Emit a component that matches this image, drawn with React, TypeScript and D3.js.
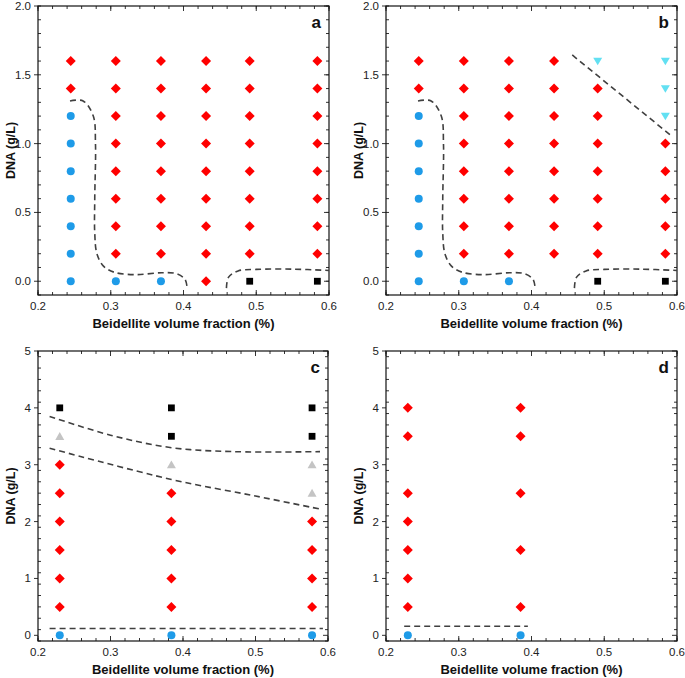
import React from 'react';
import * as d3 from 'd3';

type Col = { x: number; y: number[] };
type Pt = [number, number];

const xTickValues = [0.2, 0.3, 0.4, 0.5, 0.6];
const yTicksAB = [0, 0.5, 1.0, 1.5, 2.0];
const yTicksCD = [0, 1, 2, 3, 4, 5];

// Panel a
const aDiamond: Col[] = [
  { x: 0.245, y: [1.6, 1.4] },
  { x: 0.307, y: [1.6, 1.4, 1.2, 1.0, 0.8, 0.6, 0.4, 0.2] },
  { x: 0.369, y: [1.6, 1.4, 1.2, 1.0, 0.8, 0.6, 0.4, 0.2] },
  { x: 0.431, y: [1.6, 1.4, 1.2, 1.0, 0.8, 0.6, 0.4, 0.2, 0.0] },
  { x: 0.491, y: [1.6, 1.4, 1.2, 1.0, 0.8, 0.6, 0.4, 0.2] },
  { x: 0.584, y: [1.6, 1.4, 1.2, 1.0, 0.8, 0.6, 0.4, 0.2] },
];
const aCircle: Col[] = [
  { x: 0.245, y: [1.2, 1.0, 0.8, 0.6, 0.4, 0.2, 0.0] },
  { x: 0.307, y: [0.0] },
  { x: 0.369, y: [0.0] },
];
const aSquare: Col[] = [
  { x: 0.491, y: [0.0] },
  { x: 0.584, y: [0.0] },
];

// Panel b
const bDiamond: Col[] = [
  { x: 0.245, y: [1.6, 1.4] },
  { x: 0.307, y: [1.6, 1.4, 1.2, 1.0, 0.8, 0.6, 0.4, 0.2] },
  { x: 0.369, y: [1.6, 1.4, 1.2, 1.0, 0.8, 0.6, 0.4, 0.2] },
  { x: 0.431, y: [1.6, 1.4, 1.2, 1.0, 0.8, 0.6, 0.4, 0.2] },
  { x: 0.491, y: [1.4, 1.2, 1.0, 0.8, 0.6, 0.4, 0.2] },
  { x: 0.584, y: [1.0, 0.8, 0.6, 0.4, 0.2] },
];
const bCircle: Col[] = [
  { x: 0.245, y: [1.2, 1.0, 0.8, 0.6, 0.4, 0.2, 0.0] },
  { x: 0.307, y: [0.0] },
  { x: 0.369, y: [0.0] },
];
const bSquare: Col[] = [
  { x: 0.491, y: [0.0] },
  { x: 0.584, y: [0.0] },
];
const bTriDown: Col[] = [
  { x: 0.491, y: [1.6] },
  { x: 0.584, y: [1.6, 1.4, 1.2] },
];

// Panel c
const cDiamond: Col[] = [
  { x: 0.23, y: [3, 2.5, 2, 1.5, 1, 0.5] },
  { x: 0.384, y: [2.5, 2, 1.5, 1, 0.5] },
  { x: 0.578, y: [2, 1.5, 1, 0.5] },
];
const cCircle: Col[] = [
  { x: 0.23, y: [0] },
  { x: 0.384, y: [0] },
  { x: 0.578, y: [0] },
];
const cSquare: Col[] = [
  { x: 0.23, y: [4] },
  { x: 0.384, y: [4, 3.5] },
  { x: 0.578, y: [4, 3.5] },
];
const cTriUp: Col[] = [
  { x: 0.23, y: [3.5] },
  { x: 0.384, y: [3] },
  { x: 0.578, y: [3, 2.5] },
];

// Panel d
const dDiamond: Col[] = [
  { x: 0.23, y: [4, 3.5, 2.5, 2, 1.5, 1, 0.5] },
  { x: 0.385, y: [4, 3.5, 2.5, 1.5, 0.5] },
];
const dCircle: Col[] = [
  { x: 0.23, y: [0] },
  { x: 0.385, y: [0] },
];

// Boundary (dashed) lines
const abLeftCurve: Pt[] = [
  [0.244, 1.31], [0.262, 1.31], [0.276, 1.2], [0.279, 1.0], [0.278, 0.6],
  [0.278, 0.35], [0.281, 0.2], [0.29, 0.11], [0.305, 0.065], [0.335, 0.048],
  [0.37, 0.062], [0.39, 0.055], [0.402, 0.015], [0.405, -0.05],
];
const abRightCurve: Pt[] = [
  [0.459, -0.05], [0.462, 0.03], [0.475, 0.075], [0.5, 0.086], [0.55, 0.088], [0.6, 0.078],
];
const bDiagonal: Pt[] = [[0.456, 1.644], [0.591, 1.062]];
const cUpperCurve: Pt[] = [[0.216, 3.85], [0.3, 3.52], [0.384, 3.3], [0.47, 3.23], [0.589, 3.23]];
const cLowerCurve: Pt[] = [[0.216, 3.29], [0.384, 2.74], [0.5, 2.45], [0.589, 2.22]];
const cBottomLine: Pt[] = [[0.216, 0.12], [0.593, 0.12]];
const dBottomLine: Pt[] = [[0.225, 0.16], [0.395, 0.16]];

const RED = '#ff0000';
const BLUE = '#1e9be8';
const CYAN = '#62e0f2';
const GRAY = '#c4c4c4';
const DASH = '#404040';
const FONT = 'Liberation Sans, Arial, sans-serif';

interface PanelProps {
  left: number; right: number; top: number; bottom: number;
  yDomain: [number, number];
  yTicks: number[];
  yMinorStep: number;
  yFmt: (v: number) => string;
  letter: string;
  diamonds?: Col[]; circles?: Col[]; squares?: Col[]; triDown?: Col[]; triUp?: Col[];
  curves: { pts: Pt[]; smooth: boolean }[];
}

function flatten(cols: Col[] | undefined): Pt[] {
  if (!cols) return [];
  const out: Pt[] = [];
  cols.forEach((c) => c.y.forEach((y) => out.push([c.x, y])));
  return out;
}

function Panel(p: PanelProps) {
  const x = d3.scaleLinear().domain([0.2, 0.6]).range([p.left, p.right]);
  const y = d3.scaleLinear().domain(p.yDomain).range([p.bottom, p.top]);
  const xMinor = d3.range(0.2, 0.6001, 0.02);
  const yMinor = d3.range(p.yDomain[0], p.yDomain[1] + 1e-6, p.yMinorStep).map((v) => Math.round(v * 1000) / 1000);
  const tickColor = '#333';
  const lineGen = (smooth: boolean) =>
    d3.line<Pt>().x((d) => x(d[0])).y((d) => y(d[1])).curve(smooth ? d3.curveCatmullRom.alpha(0.5) : d3.curveLinear);
  const r = 5;
  return (
    <g>
      {xMinor.map((v, i) => (
        <g key={'xm' + i}>
          <line x1={x(v)} x2={x(v)} y1={p.bottom} y2={p.bottom - 3} stroke={tickColor} />
          <line x1={x(v)} x2={x(v)} y1={p.top} y2={p.top + 3} stroke={tickColor} />
        </g>
      ))}
      {xTickValues.map((v, i) => (
        <g key={'xM' + i}>
          <line x1={x(v)} x2={x(v)} y1={p.bottom} y2={p.bottom - 5} stroke={tickColor} />
          <line x1={x(v)} x2={x(v)} y1={p.top} y2={p.top + 5} stroke={tickColor} />
          <text x={x(v)} y={p.bottom + 15} textAnchor="middle" fontSize={11.5} fill="#222"
            fontFamily={FONT}>{v.toFixed(1)}</text>
        </g>
      ))}
      {yMinor.map((v, i) => (
        <g key={'ym' + i}>
          <line x1={p.left} x2={p.left + 3} y1={y(v)} y2={y(v)} stroke={tickColor} />
          <line x1={p.right} x2={p.right - 3} y1={y(v)} y2={y(v)} stroke={tickColor} />
        </g>
      ))}
      {p.yTicks.map((v, i) => (
        <g key={'yM' + i}>
          <line x1={p.left} x2={p.left - 4} y1={y(v)} y2={y(v)} stroke={tickColor} />
          <line x1={p.right} x2={p.right - 5} y1={y(v)} y2={y(v)} stroke={tickColor} />
          <text x={p.left - 7} y={y(v) + 4} textAnchor="end" fontSize={11.5} fill="#222"
            fontFamily={FONT}>{p.yFmt(v)}</text>
        </g>
      ))}
      <rect x={p.left} y={p.top} width={p.right - p.left} height={p.bottom - p.top}
        fill="none" stroke="#111" strokeWidth={1.2} />
      {p.curves.map((c, i) => (
        <path key={'c' + i} d={lineGen(c.smooth)(c.pts) || ''} fill="none" stroke={DASH}
          strokeWidth={1.6} strokeDasharray="6,4" />
      ))}
      {flatten(p.diamonds).map((d, i) => {
        const cx = x(d[0]), cy = y(d[1]);
        return <path key={'d' + i} d={`M${cx},${cy - r}L${cx + r},${cy}L${cx},${cy + r}L${cx - r},${cy}Z`} fill={RED} />;
      })}
      {flatten(p.circles).map((d, i) => (
        <circle key={'ci' + i} cx={x(d[0])} cy={y(d[1])} r={4} fill={BLUE} />
      ))}
      {flatten(p.squares).map((d, i) => (
        <rect key={'s' + i} x={x(d[0]) - 3.4} y={y(d[1]) - 3.4} width={6.8} height={6.8} fill="#000" />
      ))}
      {flatten(p.triDown).map((d, i) => {
        const cx = x(d[0]), cy = y(d[1]);
        return <path key={'td' + i} d={`M${cx - 4.5},${cy - 3.4}L${cx + 4.5},${cy - 3.4}L${cx},${cy + 4.2}Z`} fill={CYAN} />;
      })}
      {flatten(p.triUp).map((d, i) => {
        const cx = x(d[0]), cy = y(d[1]);
        return <path key={'tu' + i} d={`M${cx - 4.5},${cy + 3.6}L${cx + 4.5},${cy + 3.6}L${cx},${cy - 4.3}Z`} fill={GRAY} />;
      })}
      <text x={(p.left + p.right) / 2} y={p.bottom + 33} textAnchor="middle" fontSize={13} fontWeight="bold"
        fill="#111" fontFamily={FONT}>Beidellite volume fraction (%)</text>
      <text transform={`translate(${p.left - 23},${(p.top + p.bottom) / 2}) rotate(-90)`} textAnchor="middle"
        fontSize={12.5} fontWeight="bold" fill="#111" fontFamily={FONT}>DNA (g/L)</text>
      <text x={p.right - 8} y={p.top + 22} textAnchor="end" fontSize={17} fontWeight="bold" fill="#111"
        fontFamily={FONT}>{p.letter}</text>
    </g>
  );
}

const fmt1 = (v: number) => v.toFixed(1);
const fmt0 = (v: number) => String(Math.round(v));

export default function App() {
  return (
    <svg width={685} height={678} style={{ position: 'absolute', left: 0, top: 0, background: '#fff' }}>
      <rect x={0} y={0} width={685} height={678} fill="#fff" />
      <Panel left={38} right={329} top={6} bottom={295} yDomain={[-0.1, 2.0]} yTicks={yTicksAB}
        yMinorStep={0.1} yFmt={fmt1} letter="a"
        diamonds={aDiamond} circles={aCircle} squares={aSquare}
        curves={[{ pts: abLeftCurve, smooth: true }, { pts: abRightCurve, smooth: true }]} />
      <Panel left={386} right={677} top={6} bottom={295} yDomain={[-0.1, 2.0]} yTicks={yTicksAB}
        yMinorStep={0.1} yFmt={fmt1} letter="b"
        diamonds={bDiamond} circles={bCircle} squares={bSquare} triDown={bTriDown}
        curves={[{ pts: abLeftCurve, smooth: true }, { pts: abRightCurve, smooth: true }, { pts: bDiagonal, smooth: false }]} />
      <Panel left={38} right={328} top={351} bottom={641} yDomain={[-0.1, 5]} yTicks={yTicksCD}
        yMinorStep={0.2} yFmt={fmt0} letter="c"
        diamonds={cDiamond} circles={cCircle} squares={cSquare} triUp={cTriUp}
        curves={[{ pts: cUpperCurve, smooth: true }, { pts: cLowerCurve, smooth: true }, { pts: cBottomLine, smooth: false }]} />
      <Panel left={386} right={677} top={351} bottom={641} yDomain={[-0.1, 5]} yTicks={yTicksCD}
        yMinorStep={0.2} yFmt={fmt0} letter="d"
        diamonds={dDiamond} circles={dCircle}
        curves={[{ pts: dBottomLine, smooth: false }]} />
    </svg>
  );
}
